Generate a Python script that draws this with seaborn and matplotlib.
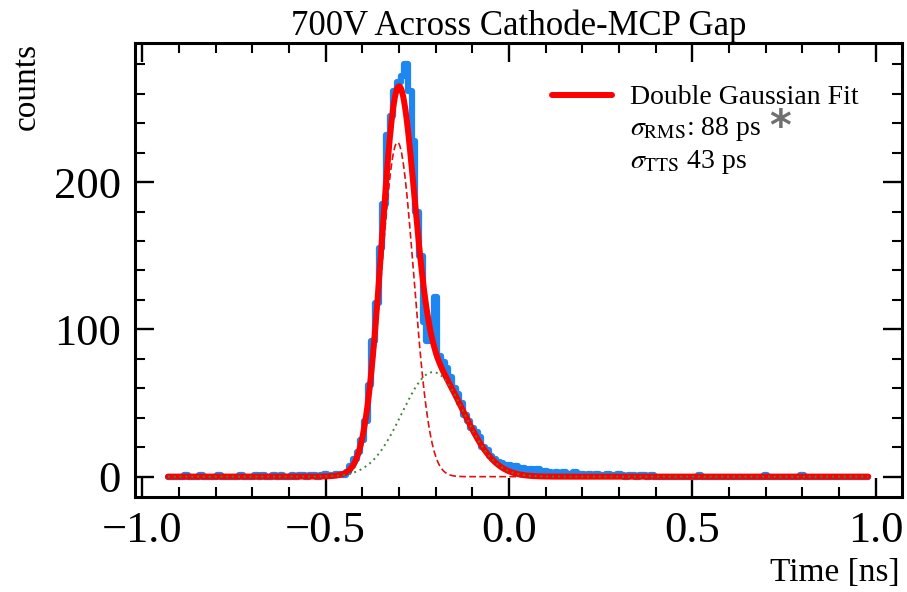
import numpy as np
import matplotlib
matplotlib.use("Agg")
import matplotlib.pyplot as plt
import seaborn as sns
from matplotlib.lines import Line2D
from matplotlib.ticker import MultipleLocator

# ---------------- data ----------------
bin_start = -0.93
bin_width = 0.01
# histogram counts, bins centred at -0.93, -0.92, ... 0.98
counts_left = [0, 0, 0, 0, 0, 1, 0, 0, 0, 1, 0, 0, 0, 0, 1, 0, 0, 0, 0, 0,
               1, 0, 0, 0, 1, 0, 1, 0, 0, 1, 0, 1, 0, 0, 1, 0, 1, 1, 0, 1,
               1, 0, 1, 2, 1, 1, 2, 2]                     # -0.93 .. -0.46
counts_peak = [1, 3, 7, 12, 17, 25, 38, 62, 92, 118,
               155, 185, 232, 245, 262, 268, 272, 280, 262, 228,
               180, 150, 105, 92, 95, 122, 82, 78, 74, 68,
               60, 56, 50, 42, 38, 33, 30, 27, 20, 18,
               14, 12, 10, 9, 8, 8, 6, 7, 5, 6,
               4, 5, 4, 5, 3, 4, 3, 2, 3, 2,
               3, 2, 2, 3, 1, 2, 1, 2, 1, 2, 1]           # -0.45 .. 0.25
counts_right = [1, 2, 1, 1, 2, 1, 0, 1, 1, 0, 1, 1, 0, 1, 0, 0, 0, 0, 0, 0,
                0, 0, 0, 0, 0, 0, 1, 0, 0, 0, 0, 0, 0, 0, 0, 0, 0, 0, 0, 0,
                0, 0, 0, 0, 1, 0, 0, 0, 0, 0, 0, 0, 0, 0, 1, 0, 0, 0, 0, 0,
                0, 0, 0, 0, 0, 0, 0, 0, 0, 0, 0, 0, 0]     # 0.26 .. 0.98
counts = counts_left + counts_peak + counts_right

# double gaussian fit parameters (amplitude, mean [ns], sigma [ns])
fit_amp = [227.0, 71.0]
fit_mean = [-0.304, -0.207]
fit_sigma = [0.044, 0.085]

title = "700V Across Cathode-MCP Gap"
xlabel = "Time [ns]"
ylabel = "counts"
legend_labels = ["Double Gaussian Fit",
                 r"$\sigma_{\mathrm{RMS}}$: 88 ps",
                 r"$\sigma_{\mathrm{TTS}}$ 43 ps"]

# ---------------- style ----------------
sns.set_style("white")
plt.rcParams["font.family"] = ["Liberation Serif", "DejaVu Serif"]
plt.rcParams["mathtext.fontset"] = "stix"
plt.rcParams["text.color"] = "black"
plt.rcParams["axes.labelcolor"] = "black"
plt.rcParams["xtick.color"] = "black"
plt.rcParams["ytick.color"] = "black"

fig = plt.figure(figsize=(9.07, 5.92), dpi=100)
ax = fig.add_axes([0.1488, 0.161, 0.8457, 0.7659])

x = bin_start + np.arange(len(counts)) * bin_width
grid = np.linspace(x[0], x[-1], 1200)
g1 = fit_amp[0] * np.exp(-0.5 * ((grid - fit_mean[0]) / fit_sigma[0]) ** 2)
g2 = fit_amp[1] * np.exp(-0.5 * ((grid - fit_mean[1]) / fit_sigma[1]) ** 2)

sns.lineplot(x=x, y=counts, ax=ax, color="#1e86f0", lw=4.5,
             drawstyle="steps-mid", estimator=None, sort=False)
sns.lineplot(x=grid, y=g1 + g2, ax=ax, color="#ff0000", lw=4.3,
             estimator=None, sort=False)
sns.lineplot(x=grid, y=g1, ax=ax, color="#e01010", lw=1.2,
             linestyle=(0, (4, 2)), estimator=None, sort=False)
sns.lineplot(x=grid, y=g2, ax=ax, color="#3a8a3a", lw=1.4,
             linestyle=(0, (1, 2)), estimator=None, sort=False)

ax.set_xlim(-1.02, 1.072)
ax.set_ylim(-13.6, 294.3)

ax.xaxis.set_major_locator(MultipleLocator(0.5))
ax.xaxis.set_minor_locator(MultipleLocator(0.1))
ax.yaxis.set_major_locator(MultipleLocator(100))
ax.yaxis.set_minor_locator(MultipleLocator(20))
ax.tick_params(which="both", direction="in", top=True, right=True,
               bottom=True, left=True, colors="black")
ax.tick_params(which="major", length=14, width=1.7, labelsize=32, pad=10)
ax.tick_params(which="minor", length=7, width=1.5)
for s in ax.spines.values():
    s.set_linewidth(2.2)
    s.set_color("black")

ax.set_title(title, fontsize=25, pad=3, color="black")
ax.set_ylabel(ylabel, fontsize=24, loc="top")
ax.yaxis.set_label_coords(-0.121, 1.0)
ax.set_xlabel(xlabel, fontsize=24, loc="right")
ax.xaxis.set_label_coords(0.997, -0.135)

handles = [Line2D([], [], color="#ff0000", lw=4.3),
           Line2D([], [], color="none"),
           Line2D([], [], color="none")]
ax.legend(handles, legend_labels, loc="upper left",
          bbox_to_anchor=(0.5437, 0.908), fontsize=20, frameon=False,
          borderpad=0, borderaxespad=0, handlelength=2.15,
          handletextpad=0.65, labelspacing=0.17)

ax.text(0.841, 0.814, "*", transform=ax.transAxes, color="#707070",
        fontsize=30, fontweight="bold", ha="center", va="center",
        family="DejaVu Sans")

fig.savefig("out.png", dpi=100)
